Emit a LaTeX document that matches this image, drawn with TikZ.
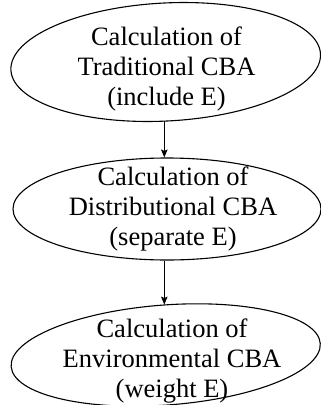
\documentclass[tikz,border=0pt]{standalone}
\usepackage{fontspec}
\setmainfont{Liberation Serif}
\usetikzlibrary{shapes.geometric,arrows.meta}
\begin{document}
\begin{tikzpicture}[x=1pt,y=-1pt,
  oval/.style={ellipse, draw, line width=1.1pt, inner sep=0pt},
  lbl/.style={align=center, inner sep=0pt, font=\fontsize{26.5}{30}\selectfont},
  flow/.style={line width=0.8pt, -{Stealth[length=8pt,width=6.5pt,inset=1.5pt]}}]
\useasboundingbox (0,0) rectangle (321,405);
\clip (0,0) rectangle (321,405);
% ellipses
\node[oval, minimum width=310pt, minimum height=118pt, rotate=3] (e1) at (165.7,62) {};
\node[oval, minimum width=308pt, minimum height=102pt] (e2) at (167,209) {};
\node[oval, minimum width=310pt, minimum height=100pt, rotate=4.3] (e3) at (165.7,355) {};
% texts
\node[lbl] (t1) at (166.5,68.7) {Calculation of\\Traditional CBA\\(include E)};
\node[lbl] (t2) at (173,208.7) {Calculation of\\Distributional CBA\\(separate E)};
\node[lbl] (t3) at (172,360.7) {Calculation of\\Environmental CBA\\(weight E)};
% connectors
\coordinate (ax) at (164.3,0);
\draw[flow] (ax |- e1.south) -- (ax |- e2.north);
\draw[flow] (ax |- e2.south) -- (ax |- e3.north);
\end{tikzpicture}
\end{document}
